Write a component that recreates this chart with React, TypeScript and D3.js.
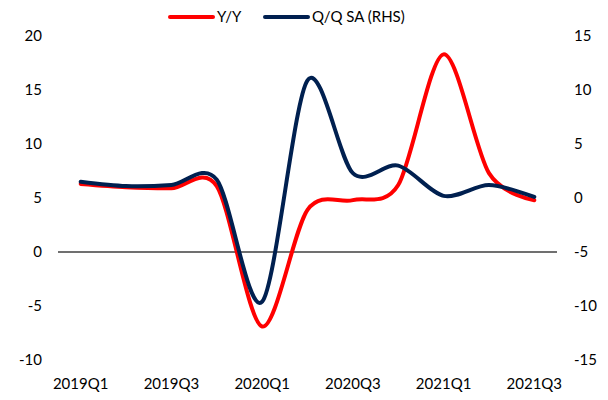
import React, { useEffect, useRef } from 'react';
import * as d3 from 'd3';

// quarters on the category axis
const quarters = ['2019Q1', '2019Q2', '2019Q3', '2019Q4', '2020Q1', '2020Q2', '2020Q3', '2020Q4', '2021Q1', '2021Q2', '2021Q3'];
// Y/Y, left axis
const yoy = [6.3, 6.0, 5.9, 6.1, -6.9, 3.9, 4.8, 6.2, 18.3, 7.3, 4.8];
// Q/Q SA, right axis
const qoq = [1.5, 1.1, 1.2, 1.7, -9.6, 10.9, 2.3, 3.0, 0.2, 1.2, 0.1];
const leftTicks = [-10, -5, 0, 5, 10, 15, 20];
const rightTicks = [-15, -10, -5, 0, 5, 10, 15];
const xLabels = ['2019Q1', '2019Q3', '2020Q1', '2020Q3', '2021Q1', '2021Q3'];

const RED = '#ff0000';
const NAVY = '#002050';
const FONT = 'Lato, "Open Sans", sans-serif';

export default function App() {
  const ref = useRef<SVGSVGElement>(null);

  useEffect(() => {
    const svg = d3.select(ref.current);
    svg.selectAll('*').remove();

    const plot = { left: 58, right: 557, top: 36, bottom: 360 };

    const x = d3.scaleBand<string>().domain(quarters).range([plot.left, plot.right]);
    const cx = (q: string) => (x(q) as number) + x.bandwidth() / 2;
    const yL = d3.scaleLinear().domain([-10, 20]).range([plot.bottom, plot.top]);
    const yR = d3.scaleLinear().domain([-15, 15]).range([plot.bottom, plot.top]);

    // zero line
    svg.append('line')
      .attr('x1', plot.left).attr('x2', plot.right)
      .attr('y1', yL(0)).attr('y2', yL(0))
      .attr('stroke', '#404040').attr('stroke-width', 1.3);

    // left axis labels
    svg.append('g').selectAll('text')
      .data(leftTicks).enter().append('text')
      .attr('x', 42).attr('y', d => yL(d))
      .attr('dy', '0.36em')
      .attr('text-anchor', 'end')
      .attr('font-family', FONT).attr('font-size', 15).attr('fill', '#000')
      .text(d => d);

    // right axis labels
    svg.append('g').selectAll('text')
      .data(rightTicks).enter().append('text')
      .attr('x', 574).attr('y', d => yR(d))
      .attr('dy', '0.36em')
      .attr('text-anchor', 'start')
      .attr('font-family', FONT).attr('font-size', 15).attr('fill', '#000')
      .text(d => d);

    // category labels
    svg.append('g').selectAll('text')
      .data(xLabels).enter().append('text')
      .attr('x', d => cx(d)).attr('y', 389)
      .attr('text-anchor', 'middle')
      .attr('font-family', FONT).attr('font-size', 15).attr('fill', '#000')
      .text(d => d);

    const curve = d3.curveCardinal.tension(0.1);

    const lineL = d3.line<number>()
      .x((_, i) => cx(quarters[i]))
      .y(d => yL(d))
      .curve(curve);
    const lineR = d3.line<number>()
      .x((_, i) => cx(quarters[i]))
      .y(d => yR(d))
      .curve(curve);

    svg.append('path')
      .datum(yoy)
      .attr('fill', 'none').attr('stroke', RED)
      .attr('stroke-width', 4).attr('stroke-linejoin', 'round').attr('stroke-linecap', 'round')
      .attr('d', lineL);

    svg.append('path')
      .datum(qoq)
      .attr('fill', 'none').attr('stroke', NAVY)
      .attr('stroke-width', 4).attr('stroke-linejoin', 'round').attr('stroke-linecap', 'round')
      .attr('d', lineR);

    // legend
    const legend = [
      { name: 'Y/Y', color: RED, x: 170 },
      { name: 'Q/Q SA (RHS)', color: NAVY, x: 265 },
    ];
    const lg = svg.append('g');
    legend.forEach(l => {
      lg.append('line')
        .attr('x1', l.x).attr('x2', l.x + 43)
        .attr('y1', 17).attr('y2', 17)
        .attr('stroke', l.color).attr('stroke-width', 4).attr('stroke-linecap', 'round');
      lg.append('text')
        .attr('x', l.x + 47).attr('y', 17).attr('dy', '0.36em')
        .attr('font-family', FONT).attr('font-size', 15).attr('fill', '#000')
        .text(l.name);
    });
  }, []);

  return (
    <svg ref={ref} width={608} height={400} style={{ position: 'absolute', left: 0, top: 0, background: '#fff' }} />
  );
}
